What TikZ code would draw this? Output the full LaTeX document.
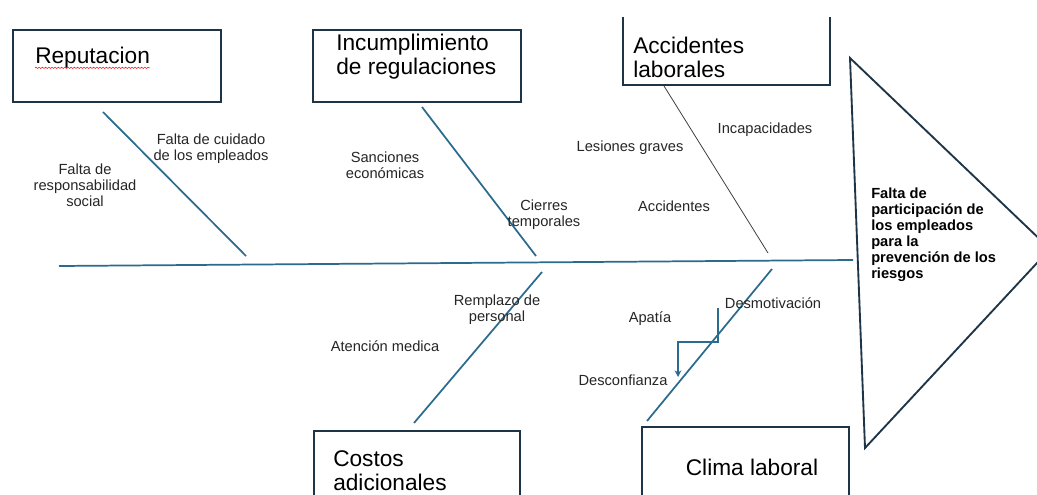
\documentclass[tikz,border=0pt]{standalone}
\usepackage{fontspec}
\setmainfont{Liberation Sans}
\usetikzlibrary{arrows.meta,decorations.pathmorphing}
\definecolor{bonecol}{HTML}{2A6B8E}
\definecolor{framecol}{HTML}{1E3547}
\tikzset{
  causebox/.style={draw=framecol,line width=1.5pt,inner sep=0pt},
  causetxt/.style={font=\fontsize{17}{18}\selectfont,align=left,inner sep=0pt},
  subtxt/.style={font=\fontsize{11}{12}\selectfont,text=black!85,align=center,inner sep=0pt},
  bone/.style={draw=bonecol,line width=1.3pt},
}
\begin{document}
\begin{tikzpicture}[x=0.75pt,y=-0.75pt]
\clip (0,0) rectangle (1037,495);
\fill[white] (0,0) rectangle (1037,495);

% cause boxes
\node[causebox,minimum width=156pt,minimum height=54pt,anchor=north west] (repbox) at (12,29) {};
\node[causebox,minimum width=156pt,minimum height=54pt,anchor=north west] (incbox) at (312,29) {};
\draw[causebox] (623,17) -- (623,85) -- (830,85) -- (830,17);
\node[causebox,minimum width=154.5pt,minimum height=60pt,anchor=north west] (cosbox) at (313,430) {};
\node[causebox,minimum width=155pt,minimum height=60pt,anchor=north west] (clibox) at (641,426) {};

\node[causetxt,anchor=west] (reptxt) at (35,58) {Reputacion};
\draw[red,line width=0.35pt,decorate,decoration={snake,amplitude=0.5pt,segment length=2.4pt}]
  (reptxt.south west) ++(0,-1) -- ++(115,0);
\node[causetxt,anchor=west] (inctxt) at (336,57) {Incumplimiento\\de regulaciones};
\node[causetxt,anchor=west] (acctxt) at (633,57) {Accidentes\\laborales};
\node[causetxt,anchor=west] (costxt) at (333,471) {Costos\\adicionales};
\node[causetxt] (clitxt) at (752,467) {Clima laboral};

% effect
\coordinate (t1) at (850,58);
\coordinate (t2) at (1050,249);
\coordinate (t3) at (865,448);
\draw[draw=framecol,line width=1.4pt] (t1) -- (t2) -- (t3) -- cycle;
\node[font=\fontsize{11}{12}\selectfont\bfseries,align=left,inner sep=0pt,anchor=west] (effect) at (871,235)
  {Falta de\\participación de\\los empleados\\para la\\prevención de los\\riesgos};

% spine and bones
\coordinate (s1) at (59,266);
\coordinate (s2) at (853,260);
\draw[bone] (s1) -- (s2);
\coordinate (r1) at (103,112); \coordinate (r2) at (246,256);
\coordinate (i1) at (422,107); \coordinate (i2) at (536,256);
\coordinate (a1) at (664,86);  \coordinate (a2) at (768,253);
\coordinate (c1) at (542,272); \coordinate (c2) at (414,423);
\coordinate (k1) at (772,269); \coordinate (k2) at (647,421);
\draw[bone] (r1) -- (r2);
\draw[bone] (i1) -- (i2);
\draw[black!75,line width=0.6pt] (a1) -- (a2);
\draw[bone] (c1) -- (c2);
\draw[bone] (k1) -- (k2);
\coordinate (w1) at (718,308);
\coordinate (w2) at (678,342);
\coordinate (w3) at (678,377);
\draw[bone,line width=1.1pt,-{Stealth[length=5pt,width=5pt]}] (w1) |- (w2) -- (w3);

% sub causes
\node[subtxt] (soc) at (85,185) {Falta de\\responsabilidad\\social};
\node[subtxt] (cui) at (211,149) {Falta de cuidado\\de los empleados};
\node[subtxt] (san) at (385,165) {Sanciones\\económicas};
\node[subtxt] (cie) at (544,215) {Cierres\\temporales};
\node[subtxt] (les) at (630,148) {Lesiones graves};
\node[subtxt] (inc) at (765,130) {Incapacidades};
\node[subtxt] (acc) at (674,206) {Accidentes};
\node[subtxt] (rem) at (497,310) {Remplazo de\\personal};
\node[subtxt] (ate) at (385,346) {Atención medica};
\node[subtxt] (apa) at (650,319) {Apatía};
\node[subtxt] (des) at (773,303) {Desmotivación};
\node[subtxt] (con) at (623,380) {Desconfianza};
\end{tikzpicture}
\end{document}
